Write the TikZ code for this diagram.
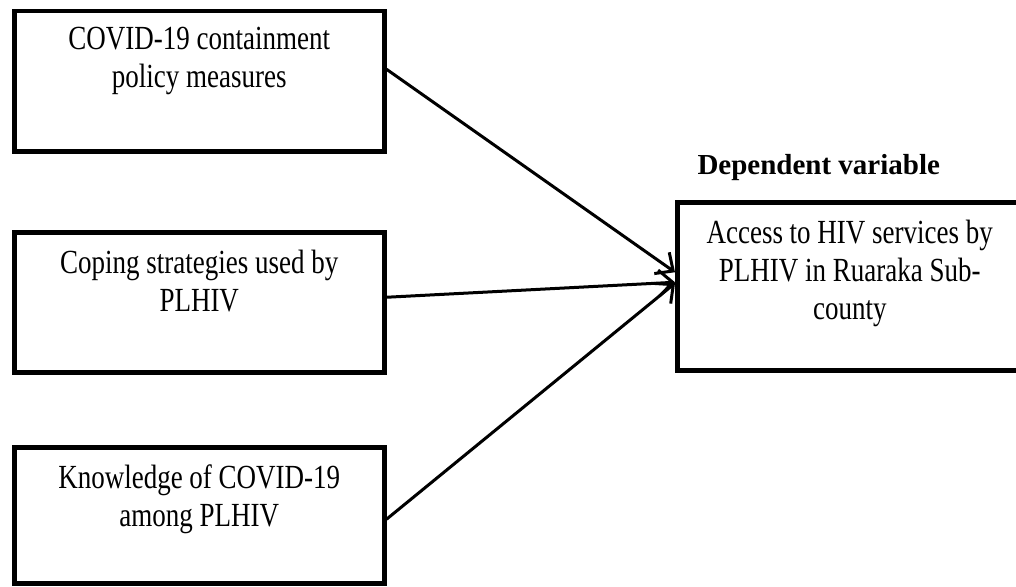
\documentclass[tikz,border=0pt]{standalone}
\usepackage{fontspec}
\setmainfont{Liberation Serif}
\usepackage{tikz}
\usetikzlibrary{arrows.meta}
\tikzset{
every picture/.style={line width=3pt},
varbox/.style={draw, line width=4.5pt, inner sep=0pt, anchor=north west},
link/.style={-{Straight Barb[length=14pt,width=26pt,line width=3pt]}}
}
% box text: gap, height, width, text
\newcommand{\vartext}[4]{\parbox[t][#2pt][t]{#3pt}{\centering\fontsize{27}{30.4}\selectfont\vspace*{#1pt}%
  \scalebox{1}[1.25]{\begin{tabular}[t]{@{}c@{}}#4\end{tabular}}}}

\begin{document}
\begin{tikzpicture}[x=1pt,y=-1pt]
    \useasboundingbox (0,0) rectangle (1016,586);
    \node[varbox] (policy) at (12,9) {\vartext{12}{140}{370}{COVID-19 containment\\policy measures}};
    \node[varbox] (coping) at (12,230) {\vartext{15}{140}{370}{Coping strategies used by\\PLHIV}};
    \node[varbox] (knowledge) at (12,445) {\vartext{15}{136}{370}{Knowledge of COVID-19\\among PLHIV}};
    \node[varbox] (access) at (675,200) {\vartext{15}{168}{345}{Access to HIV services by\\PLHIV in Ruaraka Sub-\\county}};
    \node[anchor=south west, inner sep=0pt, font=\fontsize{29}{34}\selectfont\bfseries] (dep) at (696,182) {Dependent variable};
    \draw[link] ([yshift=12pt]policy.east) -- ([yshift=14pt]access.west);
    \draw[link] ([yshift=5pt]coping.east) -- ([yshift=4pt]access.west);
    \draw[link] ([yshift=-4pt]knowledge.east) -- ([yshift=3pt]access.west);
  \end{tikzpicture}
\end{document}
